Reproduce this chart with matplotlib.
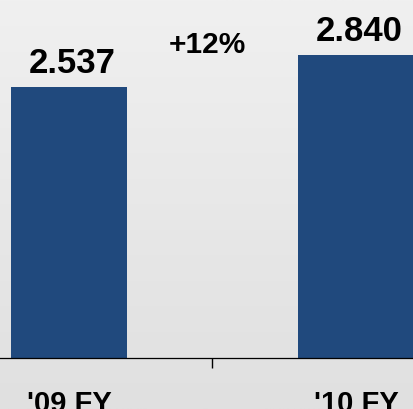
import numpy as np
import matplotlib
matplotlib.use('Agg')
import matplotlib.pyplot as plt

plt.rcParams['font.family'] = ['Liberation Sans', 'DejaVu Sans']

# 数据
years = ["'09 FY", "'10 FY"]
values = [2.537, 2.840]
value_labels = ['2.537', '2.840']
growth = '+12%'

bar_color = '#20497D'

fig = plt.figure(figsize=(4.14, 4.09), dpi=100)

# 背景渐变
bg = fig.add_axes([0, 0, 1, 1], zorder=-1)
grad = np.linspace(0, 1, 256).reshape(-1, 1)
bg.imshow(grad, aspect='auto', cmap=matplotlib.colors.LinearSegmentedColormap.from_list('g', ['#f0f0f0', '#e0e0e0']),
          extent=[0, 1, 0, 1], origin='upper')
bg.axis('off')

ax = fig.add_axes([0, 51 / 409, 1, 358 / 409])
ax.patch.set_visible(False)
ind = np.arange(len(years))
ax.bar(ind, values, width=0.404, color=bar_color)

ax.set_xlim(-0.240, 1.202)
ax.set_ylim(0, 3.352)

for x, v, s in zip(ind, values, value_labels):
    ax.text(x + 0.01, v + 0.22, s, ha='center', va='center', fontsize=25, fontweight='bold')
ax.text(0.484, 2.93, growth, ha='center', va='center', fontsize=21.5, fontweight='bold')

for s in ['top', 'left', 'right']:
    ax.spines[s].set_visible(False)
ax.spines['bottom'].set_linewidth(0.9)
ax.set_yticks([])
ax.set_xticks(ind)
ax.set_xticklabels(years, fontsize=21, fontweight='bold')
ax.tick_params(axis='x', which='major', length=0, pad=23)
ax.set_xticks([0.5], minor=True)
ax.tick_params(axis='x', which='minor', length=7, width=1, direction='out')

fig.savefig('out.png', dpi=100)
